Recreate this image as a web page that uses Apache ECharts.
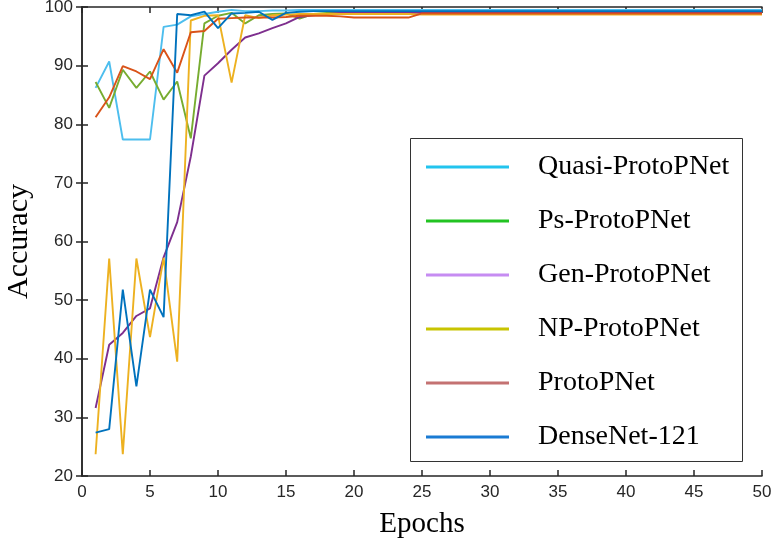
<!DOCTYPE html>
<html>
<head>
<meta charset="utf-8">
<script src="https://cdn.jsdelivr.net/npm/echarts@6/dist/echarts.min.js"></script>
<style>html,body{margin:0;padding:0;background:#fff;}#c{width:773px;height:546px;}</style>
</head>
<body>
<div id="c"></div>
<script>
var epochs = [];
for (var i = 1; i <= 50; i++) epochs.push(i);
var xTicks = [0,5,10,15,20,25,30,35,40,45,50];
var yTicks = [20,30,40,50,60,70,80,90,100];

var quasi = [86.2,90.7,77.4,77.4,77.4,96.6,97.0,98.4,98.8,99.2,99.5,99.3,99.3,99.4,99.4,
  99.5,99.5,99.5,99.5,99.5,99.5,99.5,99.5,99.5,99.5,99.5,99.5,99.5,99.5,99.5,
  99.5,99.5,99.5,99.5,99.5,99.5,99.5,99.5,99.5,99.5,99.5,99.5,99.5,99.5,99.5,
  99.5,99.5,99.5,99.5,99.5];
var ps = [87.2,82.8,89.3,86.2,89.0,84.2,87.3,77.6,97.2,98.5,99.0,97.2,98.6,98.8,98.9,
  98.0,98.8,99.0,99.1,99.1,99.1,99.1,99.1,99.1,99.1,99.1,99.1,99.1,99.1,99.1,
  99.1,99.1,99.1,99.1,99.1,99.1,99.1,99.1,99.1,99.1,99.1,99.1,99.1,99.1,99.1,
  99.1,99.1,99.1,99.1,99.1];
var gen = [31.6,42.4,44.4,47.3,48.6,57.3,63.3,74.5,88.3,90.4,92.7,94.8,95.5,96.4,97.2,
  98.3,98.6,98.8,99.0,99.0,99.0,99.0,99.0,99.0,99.0,99.0,99.0,99.0,99.0,99.0,
  99.0,99.0,99.0,99.0,99.0,99.0,99.0,99.0,99.0,99.0,99.0,99.0,99.0,99.0,99.0,
  99.0,99.0,99.0,99.0,99.0];
var np = [23.7,57.1,23.7,57.1,43.7,57.2,39.5,97.7,98.5,98.6,87.1,98.6,98.1,98.6,98.7,
  98.8,98.8,98.8,98.8,98.8,98.8,98.8,98.8,98.8,98.7,98.7,98.7,98.7,98.7,98.7,
  98.7,98.7,98.7,98.7,98.7,98.7,98.7,98.7,98.7,98.7,98.7,98.7,98.7,98.7,98.7,
  98.7,98.7,98.7,98.7,98.7];
var proto = [81.2,84.6,89.9,89.0,87.7,92.8,88.8,95.7,95.9,98.0,98.1,98.2,98.2,98.2,98.3,
  98.5,98.5,98.5,98.4,98.2,98.2,98.2,98.2,98.2,98.9,98.9,98.9,98.9,98.9,98.9,
  98.9,98.9,98.9,98.9,98.9,98.9,98.9,98.9,98.9,98.9,98.9,98.9,98.9,98.9,98.9,
  98.9,98.9,98.9,98.9,98.9];
var dense = [27.4,28.0,51.8,35.3,51.8,47.1,98.8,98.6,99.2,96.4,98.9,99.0,99.2,97.8,99.0,
  99.2,99.3,99.3,99.3,99.3,99.3,99.3,99.3,99.3,99.3,99.3,99.3,99.3,99.3,99.3,
  99.3,99.3,99.3,99.3,99.3,99.3,99.3,99.3,99.3,99.3,99.3,99.3,99.3,99.3,99.3,
  99.3,99.3,99.3,99.3,99.3];

var names = ['Quasi-ProtoPNet','Ps-ProtoPNet','Gen-ProtoPNet','NP-ProtoPNet','ProtoPNet','DenseNet-121'];
var values = [quasi, ps, gen, np, proto, dense];
var lineColors = ['#4DBEEE','#77AC30','#7E2F8E','#EDB120','#D95319','#0072BD'];
var legendColors = ['#22C4EE','#22C322','#C68CF2','#C8C400','#C47272','#1A7BD3'];

function pairs(v){ return epochs.map(function(e,i){ return [e, v[i]]; }); }

var axisColor = '#262626';
var chart = echarts.init(document.getElementById('c'), null, {renderer:'canvas'});
var series = names.map(function(n, k){
  return {
    name: n, type: 'line', data: pairs(values[k]), showSymbol: false, symbol: 'none',
    xAxisIndex: 0, yAxisIndex: 0,
    lineStyle: {color: lineColors[k], width: 1.9}, itemStyle: {color: lineColors[k]},
    animation: false, z: 2
  };
});
var commonX = {type:'value', min:0, max:50, interval:5, splitLine:{show:false},
  axisLine:{show:true, lineStyle:{color:axisColor, width:1.5}},
  axisTick:{show:true, inside:true, length:6, lineStyle:{color:axisColor, width:1.5}}};
var commonY = {type:'value', min:20, max:100, interval:10, splitLine:{show:false},
  axisLine:{show:true, lineStyle:{color:axisColor, width:1.5}},
  axisTick:{show:true, inside:true, length:6, lineStyle:{color:axisColor, width:1.5}}};

chart.setOption({
  backgroundColor: '#fff',
  animation: false,
  grid: {left:82, right:11, top:7, bottom:70, containLabel:false, outerBoundsMode:'none'},
  xAxis: [
    Object.assign({}, commonX, {position:'bottom',
      axisLabel:{color:axisColor, fontSize:17, fontFamily:'Liberation Sans', margin:8},
      name:'Epochs', nameLocation:'middle', nameGap:34,
      nameTextStyle:{color:'#000', fontSize:29, fontFamily:'Liberation Serif'}}),
    Object.assign({}, commonX, {position:'top', axisLabel:{show:false}})
  ],
  yAxis: [
    Object.assign({}, commonY, {position:'left',
      axisLabel:{color:axisColor, fontSize:17, fontFamily:'Liberation Sans', margin:9},
      name:'Accuracy', nameLocation:'middle', nameGap:46,
      nameTextStyle:{color:'#000', fontSize:30, fontFamily:'Liberation Serif'}}),
    Object.assign({}, commonY, {position:'right', axisLabel:{show:false}})
  ],
  graphic: [{
    type:'rect', left:410, top:138, z:3,
    shape:{width:332, height:323},
    style:{fill:'#fff', stroke:'#333', lineWidth:1}
  }],
  legend: {
    orient:'vertical', left:421, top:147, z:10,
    icon:'rect', itemWidth:83, itemHeight:3, itemGap:24,
    textStyle:{color:'#000', fontSize:28, fontFamily:'Liberation Serif', lineHeight:30, padding:[0,0,0,24]},
    data: names.map(function(n,k){ return {name:n, itemStyle:{color:legendColors[k]}, lineStyle:{color:legendColors[k]}}; })
  },
  series: series
});
</script>
</body>
</html>
